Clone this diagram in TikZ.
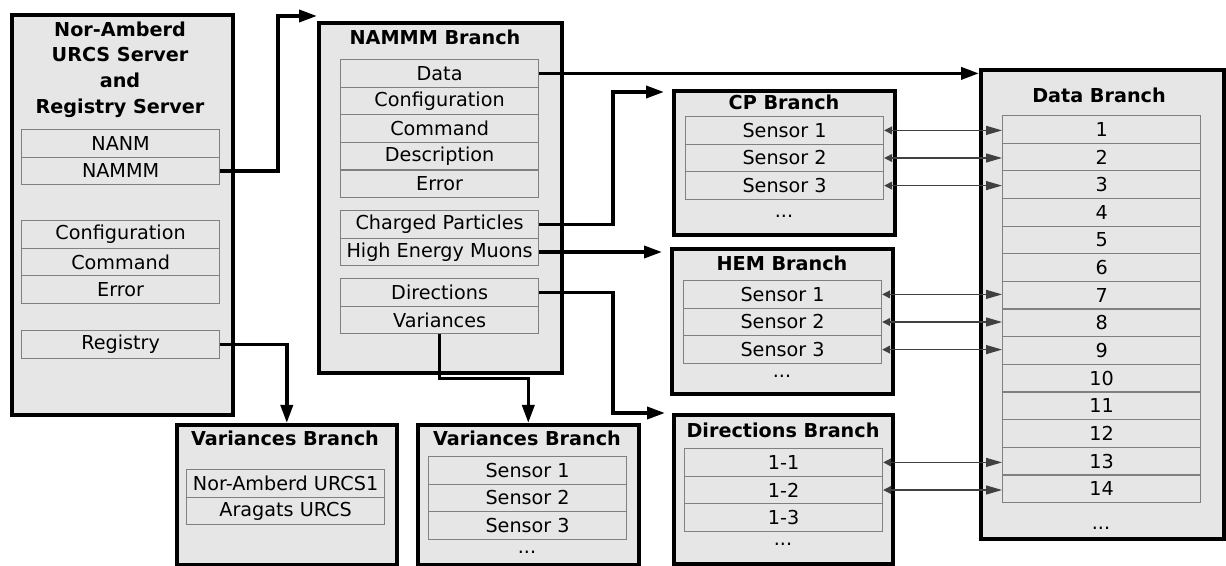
\documentclass[tikz,border=0pt]{standalone}
\usepackage{fontspec}
\setmainfont{DejaVu Sans}
\usetikzlibrary{arrows.meta,positioning,calc}
\definecolor{boxgray}{RGB}{230,230,230}
\definecolor{rowline}{RGB}{128,128,128}
\newcommand\diafont{\fontsize{9.6}{12.8}\selectfont}

\tikzset{
  branch/.style={draw, line width=1.8pt, fill=boxgray, anchor=north west, inner sep=0pt},
  row/.style={draw=rowline, line width=0.6pt, fill=boxgray, anchor=north west, inner sep=0pt, minimum width=99pt, minimum height=13.8pt},
  heading/.style={font=\diafont\bfseries, align=center},
  link/.style={line width=1.8pt, -{Triangle[length=9pt,width=6pt]}},
  wire/.style={line width=0.6pt, black!75, {Triangle[length=4pt,width=4pt]}-{Triangle[length=8pt,width=4.5pt]}}
}

\begin{document}
\begin{tikzpicture}[x=0.5pt, y=-0.5pt, font=\diafont]
    \useasboundingbox (0,0) rectangle (1226,566);

    % Server
    \node[branch, minimum width=110.5pt, minimum height=200pt] (srv) at (10,13) {};
    \node[heading] (srvtitle) at (120,69.5) {Nor-Amberd\\URCS Server\\and\\Registry Server};
    \foreach \i/\val in {0/NANM, 1/NAMMM}
        \node[row] (srv\i) at (21, {129+27.6*\i}) {\val};
    \foreach \i/\val in {0/Configuration, 1/Command, 2/Error}
        \node[row] (cfg\i) at (21, {220+27.6*\i}) {\val};
    \node[row] (reg) at (21,330) {Registry};

    % NAMMM Branch
    \node[branch, minimum width=121.5pt, minimum height=175pt] (nam) at (317,21) {};
    \node[heading] (namtitle) at (435,37) {NAMMM Branch};
    \foreach \i/\val in {0/Data, 1/Configuration, 2/Command, 3/Description, 4/Error}
        \node[row] (nam\i) at (340, {59+27.6*\i}) {\val};
    \foreach \i/\val in {0/Charged Particles, 1/High Energy Muons}
        \node[row] (sub\i) at (340, {210+27.6*\i}) {\val};
    \foreach \i/\val in {0/Directions, 1/Variances}
        \node[row] (est\i) at (340, {278+27.6*\i}) {\val};

    % CP Branch
    \node[branch, minimum width=110.5pt, minimum height=72pt] (cp) at (672,89) {};
    \node[heading] (cptitle) at (784,102) {CP Branch};
    \foreach \i in {1,2,3}
        \node[row] (cp\i) at (685, {116+27.6*(\i-1)}) {Sensor \i};
    \node (cpmore) at (784,216) {...};

    % HEM Branch
    \node[branch, minimum width=110.5pt, minimum height=72.5pt] (hem) at (670,247) {};
    \node[heading] (hemtitle) at (782,263) {HEM Branch};
    \foreach \i in {1,2,3}
        \node[row] (hem\i) at (683, {280+27.6*(\i-1)}) {Sensor \i};
    \node (hemmore) at (782,376) {...};

    % Directions Branch
    \node[branch, minimum width=109.5pt, minimum height=74.5pt] (dir) at (672,413) {};
    \node[heading] (dirtitle) at (783,430) {Directions Branch};
    \foreach \i in {1,2,3}
        \node[row] (dir\i) at (684, {448+27.6*(\i-1)}) {1-\i};
    \node (dirmore) at (783,544) {...};

    % Variances Branches
    \node[branch, minimum width=110pt, minimum height=70pt] (var) at (175,423) {};
    \node[heading] (vartitle) at (285,438) {Variances Branch};
    \foreach \i/\val in {0/Nor-Amberd URCS1, 1/Aragats URCS}
        \node[row] (var\i) at (186, {469+27.6*\i}) {\val};

    \node[branch, minimum width=110.5pt, minimum height=70pt] (vrs) at (416,423) {};
    \node[heading] (vrstitle) at (527,438) {Variances Branch};
    \foreach \i in {1,2,3}
        \node[row] (vrs\i) at (428, {456+27.6*(\i-1)}) {Sensor \i};
    \node (vrsmore) at (527,552) {...};

    % Data Branch
    \node[branch, minimum width=121.5pt, minimum height=234.5pt] (dat) at (979,68) {};
    \node[heading] (dattitle) at (1099,95) {Data Branch};
    \foreach \i in {1,...,14}
        \node[row] (dat\i) at (1002, {115+27.64*(\i-1)}) {\i};
    \node (datmore) at (1101,528) {...};

    % Links
    \draw[link] (srv1.east) -- ++(58,0) |- ([yshift=2.5pt]nam.north west);
    \draw[link] (reg.east) -| (var.north);
    \draw[link] (nam0.east) -- (nam0.east -| dat.west);
    \draw[link] (sub0.east) -- ++(74,0) |- ([xshift=-4pt,yshift=-1.5pt]cp.north west);
    \draw[link] (sub1.east) -- ([xshift=-4pt]sub1.east -| hem.west);
    \draw[link] (est0.east) -- ++(74,0) |- ([xshift=-3.5pt]dir.north west);
    \draw[link] (est1.south) -- ++(0,44) -| (vrs.north);

    % Sensors to data
    \foreach \s/\d in {cp1/1, cp2/2, cp3/3, hem1/7, hem2/8, hem3/9, dir1/13, dir2/14}
        \draw[wire] (\s.east) -- (\s.east -| dat\d.west);
\end{tikzpicture}
\end{document}
